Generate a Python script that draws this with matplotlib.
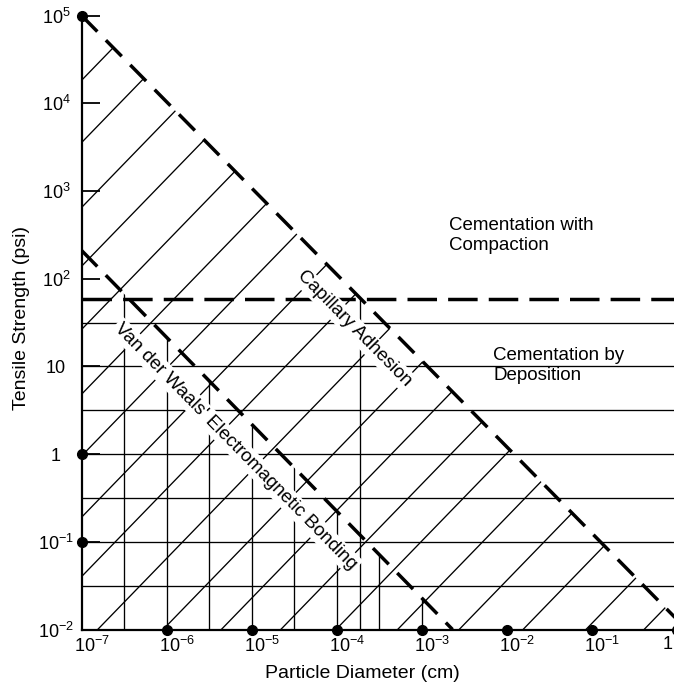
import matplotlib
matplotlib.use("Agg")
import matplotlib.pyplot as plt
from matplotlib.patches import Polygon
from matplotlib.transforms import ScaledTranslation

plt.rcParams['font.family'] = ['Liberation Sans', 'DejaVu Sans']
plt.rcParams['mathtext.fontset'] = 'custom'
plt.rcParams['mathtext.rm'] = 'Liberation Sans'
plt.rcParams['mathtext.it'] = 'Liberation Sans:italic'
plt.rcParams['mathtext.bf'] = 'Liberation Sans:bold'

# axis decades
x_ticks = [1e-7, 1e-6, 1e-5, 1e-4, 1e-3, 1e-2, 1e-1, 1e0]
x_labels = [r'$10^{-7}$', r'$10^{-6}$', r'$10^{-5}$', r'$10^{-4}$',
            r'$10^{-3}$', r'$10^{-2}$', r'$10^{-1}$', '1']
y_ticks = [1e-2, 1e-1, 1e0, 1e1, 1e2, 1e3, 1e4, 1e5]
y_labels = [r'$10^{-2}$', r'$10^{-1}$', '1', '10', r'$10^{2}$', r'$10^{3}$',
            r'$10^{4}$', r'$10^{5}$']

# dots on the axes
dot_x = [1e-6, 1e-5, 1e-4, 1e-3, 1e-2, 1e-1, 1e0]
dot_y = [1e5, 1e0, 1e-1]

# boundaries (dashed)
capillary_x = [1e-7, 1.0]        # upper diagonal
capillary_y = [1e5, 1.3e-2]
vdw_x = [1e-7, 2.3e-3]           # lower diagonal
vdw_y = [210, 1e-2]
compaction_y = 58                # horizontal dashed
cross_x = 1.9e-4                 # vertical through the capillary cross

# thin rulings
rule_y = [31.6, 10, 3.16, 1, 0.316, 0.1, 0.0316]
rule_x = [3.16e-7, 1e-6, 3.16e-6, 1e-5, 3.16e-5, 1e-4, 3.16e-4, 1e-3]

# diagonal hatch: start points on the y axis and on the x axis
hatch_y0 = [18200, 3550, 646, 138, 26.3, 4.8, 0.95, 0.19, 0.04]
hatch_x0 = [1.55e-7, 9.1e-7, 4.4e-6, 2.2e-5, 9.8e-5, 5.2e-4, 2.75e-3,
            1.55e-2, 8.5e-2, 0.41]

W, H = 674, 685
fig = plt.figure(figsize=(W / 100, H / 100), dpi=100)
ax = fig.add_axes([81.5 / W, (H - 629.5) / H, (677 - 81.5) / W, 614 / H])
ax.set_xscale('log')
ax.set_yscale('log')
ax.set_xlim(1e-7, 1)
ax.set_ylim(1e-2, 1e5)

thin = 0.95
heavy = 2.5

upper_clip = Polygon([(1e-7, 1e-2), (capillary_x[0], capillary_y[0]),
                      (capillary_x[1], capillary_y[1]), (1, 1e-2)],
                     closed=True, transform=ax.transData)
lower_clip = Polygon([(1e-7, 1e-2), (vdw_x[0], vdw_y[0]), (vdw_x[1], vdw_y[1])],
                     closed=True, transform=ax.transData)

for y0 in hatch_y0:
    ln, = ax.plot([1e-7, 1.0], [y0, y0 * 1e7], color='k', lw=thin, zorder=1)
    ln.set_clip_path(upper_clip)
for x0 in hatch_x0:
    ln, = ax.plot([x0, x0 * 1e7], [1e-2, 1e5], color='k', lw=thin, zorder=1)
    ln.set_clip_path(upper_clip)

for yv in rule_y:
    ax.plot([1e-7, 1.0], [yv, yv], color='k', lw=thin, zorder=1)
for xv in rule_x:
    ln, = ax.plot([xv, xv], [1e-2, 1e5], color='k', lw=thin, zorder=1)
    ln.set_clip_path(lower_clip)
ax.plot([cross_x, cross_x], [1e-2, compaction_y], color='k', lw=thin, zorder=1)

ax.plot(capillary_x, capillary_y, color='k', lw=heavy, dashes=[6.5, 3.5],
        zorder=2, clip_on=False)
ax.plot(vdw_x, vdw_y, color='k', lw=heavy, dashes=[6.5, 3.5], zorder=2)
ax.plot([1e-7, 1.0], [compaction_y, compaction_y], color='k', lw=heavy,
        dashes=[8.5, 3.2], zorder=2)

ax.plot(dot_x, [1e-2] * len(dot_x), 'o', color='k', ms=7, clip_on=False, zorder=4)
ax.plot([1e-7] * len(dot_y), dot_y, 'o', color='k', ms=7, clip_on=False, zorder=4)

box = dict(boxstyle='square,pad=0.12', fc='white', ec='none')
ax.text(1.6e-4, 27, 'Capillary Adhesion', rotation=-45.5, rotation_mode='anchor',
        ha='center', va='center', fontsize=13.5, bbox=box, zorder=3)
ax.text(6.5e-6, 1.22, "Van der Waals' Electromagnetic Bonding", rotation=-45.5,
        rotation_mode='anchor', ha='center', va='center', fontsize=13.5,
        bbox=box, zorder=3)
ax.text(2.1e-3, 312, 'Cementation with\nCompaction', ha='left', va='center',
        fontsize=13.5, linespacing=1.25)
ax.text(6.9e-3, 10.2, 'Cementation by\nDeposition', ha='left', va='center',
        fontsize=13.5, linespacing=1.25)

for side in ['top', 'right']:
    ax.spines[side].set_visible(False)
for side in ['left', 'bottom']:
    ax.spines[side].set_linewidth(1.6)

ax.set_xticks(x_ticks, x_labels, fontsize=13)
ax.set_yticks(y_ticks, y_labels, fontsize=13)
ax.minorticks_off()
ax.tick_params(axis='x', length=0, pad=4.5)
ax.tick_params(axis='y', direction='in', length=13, width=1.3, pad=18.4)
shift = ScaledTranslation(10 / 100, 0, fig.dpi_scale_trans)
back = ScaledTranslation(-4 / 100, 0, fig.dpi_scale_trans)
xlabs = ax.get_xticklabels()
for lab in xlabs[:-1]:
    lab.set_transform(lab.get_transform() + shift)
xlabs[-1].set_ha('right')
xlabs[-1].set_transform(xlabs[-1].get_transform() + back)
for lab in ax.get_yticklabels():
    lab.set_ha('center')

fig.text(362 / W, 1 - 673 / H, 'Particle Diameter (cm)', ha='center',
         va='center', fontsize=14)
fig.text(22 / W, 1 - 318 / H, 'Tensile Strength (psi)', ha='center',
         va='center', rotation=90, fontsize=14)

fig.savefig('out.png', dpi=100)
